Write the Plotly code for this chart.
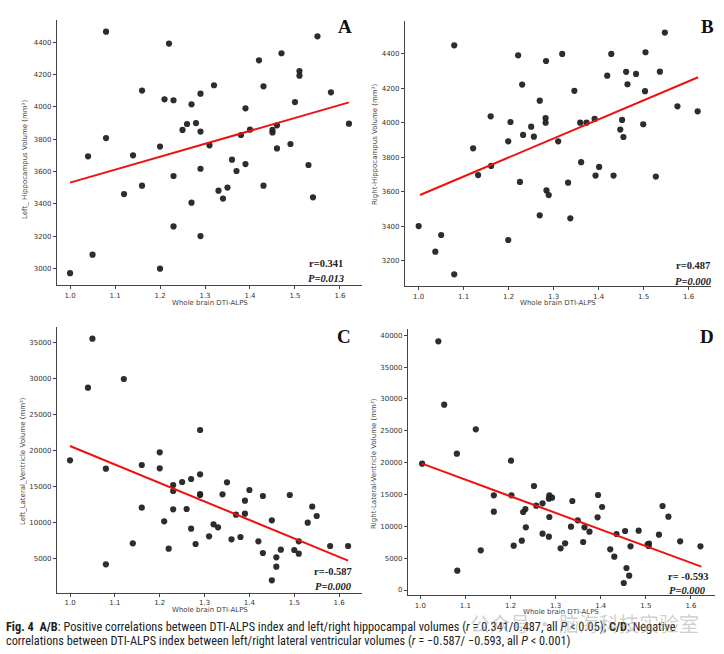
import plotly.graph_objects as go

W, H = 724, 654

# ---------------- data ----------------
a_x = [1.00, 1.04, 1.05, 1.08, 1.08, 1.12, 1.14, 1.16, 1.16, 1.20, 1.20, 1.21, 1.22, 1.23, 1.23, 1.23, 1.25, 1.26,
       1.27, 1.27, 1.28, 1.29, 1.29, 1.29, 1.29, 1.31, 1.32, 1.33, 1.34, 1.35, 1.36, 1.37, 1.38, 1.39, 1.39, 1.40,
       1.42, 1.43, 1.43, 1.45, 1.45, 1.46, 1.46, 1.47, 1.49, 1.50, 1.51, 1.51, 1.53, 1.54, 1.55, 1.58, 1.62]
a_y = [2970, 3694, 3085, 4466, 3807, 3460, 3700, 4101, 3512, 3754, 2998, 4047, 4392, 4041, 3572, 3260, 3857, 3894,
       4016, 3407, 3900, 4082, 3847, 3617, 3200, 3762, 4134, 3481, 3432, 3500, 3673, 3603, 3826, 3991, 3646, 3859,
       4288, 4127, 3512, 3857, 3842, 3886, 3743, 4332, 3770, 4030, 4222, 4193, 3640, 3440, 4437, 4090, 3896]
a_fit_x = [1.0, 1.62]
a_fit_y = [3531, 4028]

b_x = [1.000, 1.037, 1.050, 1.079, 1.079, 1.121, 1.132, 1.160, 1.161, 1.199, 1.199, 1.204, 1.221, 1.225, 1.230,
       1.232, 1.250, 1.256, 1.269, 1.269, 1.282, 1.282, 1.283, 1.284, 1.289, 1.310, 1.319, 1.332, 1.337, 1.346,
       1.359, 1.361, 1.373, 1.391, 1.393, 1.401, 1.419, 1.428, 1.433, 1.448, 1.452, 1.455, 1.461, 1.464, 1.483,
       1.499, 1.503, 1.504, 1.527, 1.536, 1.547, 1.575, 1.620]
b_y = [3401, 3252, 3349, 4450, 3121, 3852, 3697, 4038, 3750, 3893, 3320, 4005, 4392, 3657, 4222, 3930, 3978, 3920,
       4129, 3463, 4028, 4001, 4359, 3608, 3581, 3893, 4400, 3653, 3446, 4186, 4001, 3772, 4001, 4023, 3694, 3744,
       4274, 4400, 3694, 3961, 4017, 3918, 4296, 4224, 4284, 3992, 4184, 4410, 3688, 4297, 4524, 4096, 4067]
b_fit_x = [1.003, 1.621]
b_fit_y = [3581, 4265]

c_x = [1.00, 1.04, 1.05, 1.08, 1.08, 1.12, 1.14, 1.16, 1.16, 1.20, 1.20, 1.21, 1.22, 1.23, 1.23, 1.23, 1.25, 1.26,
       1.27, 1.27, 1.28, 1.29, 1.29, 1.29, 1.29, 1.31, 1.32, 1.33, 1.34, 1.35, 1.36, 1.37, 1.38, 1.39, 1.39, 1.40,
       1.42, 1.43, 1.43, 1.45, 1.45, 1.46, 1.46, 1.47, 1.49, 1.50, 1.51, 1.51, 1.53, 1.54, 1.55, 1.58, 1.62]
c_y = [18638, 28714, 35508, 17483, 4218, 29916, 7129, 17991, 12075, 19747, 17528, 10180, 6390, 15218, 14386, 11844,
       15634, 11890, 16050, 9163, 7037, 22844, 16697, 13970, 13831, 8100, 9764, 9348, 13924, 15588, 7683, 11104,
       8007, 13045, 11243, 14524, 7406, 13692, 5789, 10318, 2000, 5188, 3894, 6251, 13831, 6205, 7406, 5696, 9995,
       12213, 10920, 6759, 6759]
c_fit_x = [1.0, 1.62]
c_fit_y = [20626, 4726]

d_x = [1.004, 1.040, 1.053, 1.081, 1.082, 1.123, 1.134, 1.163, 1.163, 1.201, 1.202, 1.207, 1.225, 1.228, 1.233,
       1.234, 1.252, 1.257, 1.271, 1.271, 1.285, 1.286, 1.286, 1.285, 1.292, 1.311, 1.321, 1.334, 1.337, 1.349,
       1.361, 1.364, 1.375, 1.393, 1.394, 1.403, 1.421, 1.430, 1.435, 1.451, 1.454, 1.457, 1.463, 1.466, 1.484,
       1.504, 1.506, 1.507, 1.529, 1.537, 1.550, 1.576, 1.621]
d_y = [19844, 39060, 29112, 21415, 3037, 25237, 6231, 14870, 12305, 20316, 14870, 6964, 7749, 12252, 12724, 9844,
       16336, 13247, 13614, 8849, 14347, 14870, 11467, 8378, 14504, 6545, 7330, 9948, 13980, 10943, 7540, 9844,
       9163, 11414, 14923, 13038, 6388, 5236, 8796, 1100, 9268, 3456, 2251, 6859, 9320, 7173, 6912, 7278, 8692,
       13195, 11519, 7645, 6859]
d_fit_x = [1.004, 1.623]
d_fit_y = [19844, 3665]

x_ticks = [1.0, 1.1, 1.2, 1.3, 1.4, 1.5, 1.6]
a_ticks = [3000, 3200, 3400, 3600, 3800, 4000, 4200, 4400]
b_ticks = [3200, 3400, 3600, 3800, 4000, 4200, 4400]
c_ticks = [5000, 10000, 15000, 20000, 25000, 30000, 35000]
d_ticks = [0, 5000, 10000, 15000, 20000, 25000, 30000, 35000, 40000]

x_title = "Whole brain DTI-ALPS"
y_titles = ["Left_ Hippocampus Volume (mm³)", "Right-Hippocampus Volume (mm³)",
            "Left_Lateral_Ventricle Volume (mm³)", "Right-Lateral-Ventricle Volume (mm³)"]
letters = ["A", "B", "C", "D"]
r_texts = ["r=0.341", "r=0.487", "r=-0.587", "r= -0.593"]
p_texts = ["P=0.013", "P=0.000", "P=0.000", "P=0.000"]

caption1 = ("<b>Fig. 4  A/B</b>: Positive correlations between DTI-ALPS index and left/right hippocampal volumes "
            "(<i>r</i> = 0.341/0.487, all <i>P</i> &lt; 0.05); <b>C/D</b>: Negative")
caption2 = ("correlations between DTI-ALPS index between left/right lateral ventricular volumes "
            "(<i>r</i> = −0.587/ −0.593, all <i>P</i> &lt; 0.001)")
watermark = "公众号 · 脑海科技实验室"

# ---------------- layout (pixel geometry) ----------------
def px(x):
    return x / W

def py(y):
    return 1 - y / H

panels = [
    dict(x=a_x, y=a_y, fx=a_fit_x, fy=a_fit_y, dx=(57, 362), dy=(20, 285), xr=(0.971, 1.649), yr=(2897, 4538),
         yt=a_ticks, ytp=(25, 160), xtp=(210, 303), lp=(345, 26), rp=(326, 263), pp=(326, 278)),
    dict(x=b_x, y=b_y, fx=b_fit_x, fy=b_fit_y, dx=(405, 711), dy=(20.7, 286), xr=(0.9696, 1.6496), yr=(3053, 4593),
         yt=b_ticks, ytp=(375, 145), xtp=(558, 303), lp=(707, 26), rp=(693, 266), pp=(693, 281)),
    dict(x=c_x, y=c_y, fx=c_fit_x, fy=c_fit_y, dx=(57, 362), dy=(326.7, 592.7), xr=(0.971, 1.651), yr=(284, 37164),
         yt=c_ticks, ytp=(23, 461), xtp=(210, 610), lp=(344, 336), rp=(333, 571), pp=(333, 586)),
    dict(x=d_x, y=d_y, fx=d_fit_x, fy=d_fit_y, dx=(408, 714.7), dy=(329.3, 595), xr=(0.9727, 1.6526), yr=(-785, 40942),
         yt=d_ticks, ytp=(374, 463), xtp=(561, 612), lp=(707, 336), rp=(688, 576), pp=(687, 590)),
]

tick_font = dict(family="DejaVu Sans", size=7, color="#333333")
axis_color = "#444444"

fig = go.Figure()
annotations = []
layout_axes = {}

for i, p in enumerate(panels):
    n = "" if i == 0 else str(i + 1)
    xa, ya = "x" + n, "y" + n
    fig.add_trace(go.Scatter(x=p["x"], y=p["y"], mode="markers", xaxis=xa, yaxis=ya,
                             marker=dict(size=6.2, color="#222222", opacity=0.95, line=dict(width=0)),
                             showlegend=False, hoverinfo="x+y"))
    fig.add_trace(go.Scatter(x=p["fx"], y=p["fy"], mode="lines", xaxis=xa, yaxis=ya,
                             line=dict(color="#ee1111", width=2), showlegend=False))
    layout_axes["xaxis" + n] = dict(domain=[px(p["dx"][0]), px(p["dx"][1])], range=list(p["xr"]), anchor=ya,
                                   tickvals=x_ticks, tickformat=".1f", showgrid=False, zeroline=False,
                                   showline=True, linecolor=axis_color, linewidth=1.2,
                                   ticks="outside", ticklen=3, tickwidth=1, tickcolor=axis_color,
                                   tickfont=tick_font, fixedrange=True)
    layout_axes["yaxis" + n] = dict(domain=[py(p["dy"][1]), py(p["dy"][0])], range=list(p["yr"]), anchor=xa,
                                   tickvals=p["yt"], tickformat="d", showgrid=False, zeroline=False,
                                   showline=True, linecolor=axis_color, linewidth=1.2,
                                   ticks="outside", ticklen=3, tickwidth=1, tickcolor=axis_color,
                                   tickfont=tick_font, fixedrange=True)
    annotations.append(dict(text=y_titles[i], x=px(p["ytp"][0]), y=py(p["ytp"][1]), xref="paper", yref="paper",
                            textangle=-90, showarrow=False, xanchor="center", yanchor="middle",
                            font=dict(family="DejaVu Sans", size=7, color="#444444")))
    annotations.append(dict(text=x_title, x=px(p["xtp"][0]), y=py(p["xtp"][1]), xref="paper", yref="paper",
                            showarrow=False, xanchor="center", yanchor="middle",
                            font=dict(family="DejaVu Sans", size=7, color="#444444")))
    annotations.append(dict(text="<b>" + letters[i] + "</b>", x=px(p["lp"][0]), y=py(p["lp"][1]),
                            xref="paper", yref="paper", showarrow=False, xanchor="center", yanchor="middle",
                            font=dict(family="Liberation Serif", size=19, color="#111111")))
    annotations.append(dict(text="<b>" + r_texts[i] + "</b>", x=px(p["rp"][0]), y=py(p["rp"][1]),
                            xref="paper", yref="paper", showarrow=False, xanchor="center", yanchor="middle",
                            font=dict(family="Liberation Serif", size=10.5, color="#222222")))
    annotations.append(dict(text="<b><i>" + p_texts[i] + "</i></b>", x=px(p["pp"][0]), y=py(p["pp"][1]),
                            xref="paper", yref="paper", showarrow=False, xanchor="center", yanchor="middle",
                            font=dict(family="Liberation Serif", size=10.5, color="#222222")))

cap_font = dict(family="Liberation Sans Narrow, Roboto Condensed, Roboto, sans-serif", size=12.3, color="#222222")
annotations.append(dict(text=caption1, x=px(4), y=py(627), xref="paper", yref="paper", showarrow=False,
                        xanchor="left", yanchor="middle", font=cap_font))
annotations.append(dict(text=caption2, x=px(4), y=py(641), xref="paper", yref="paper", showarrow=False,
                        xanchor="left", yanchor="middle", font=cap_font))
annotations.append(dict(text=watermark, x=px(584), y=py(623), xref="paper", yref="paper", showarrow=False,
                        xanchor="center", yanchor="middle",
                        font=dict(family="Noto Sans CJK SC", size=20, color="rgba(150,150,150,0.45)")))

fig.update_layout(width=W, height=H, margin=dict(l=0, r=0, t=0, b=0), paper_bgcolor="white",
                  plot_bgcolor="white", annotations=annotations, **layout_axes)

fig.write_html("out.html")
